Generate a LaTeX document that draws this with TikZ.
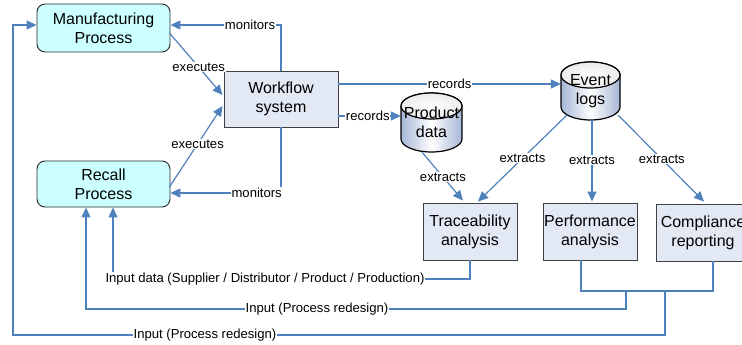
\documentclass[tikz,border=0pt]{standalone}
\usepackage{fontspec}
\setmainfont{Liberation Sans}
\usetikzlibrary{arrows.meta,calc}
\definecolor{lnblue}{RGB}{79,129,189}
\definecolor{cyanfill}{RGB}{204,255,255}
\definecolor{boxfill}{RGB}{226,233,245}
\definecolor{cylside}{RGB}{165,182,214}
\tikzset{
  nfont/.style={font=\fontsize{16}{19}\selectfont},
  lbl/.style={font=\fontsize{13.1}{15}\selectfont, fill=white, inner sep=0.8pt},
  procbox/.style={nfont, draw=black!85, line width=0.9pt, fill=cyanfill, rounded corners=8pt, align=center, minimum width=133pt, inner sep=0pt},
  anbox/.style={nfont, draw=black!75, line width=0.9pt, fill=boxfill, align=center, minimum width=94pt, minimum height=57pt, inner sep=0pt},
  wire/.style={draw=lnblue, line width=1.2pt},
  arr/.style={wire, -{Triangle[length=10pt,width=9pt]}},
  cyltext/.style={nfont, align=center, inner sep=0pt}
}
\newcommand\mycyl[5]{% cx, top, bottom, rx, ry
  \shade[left color=cylside, right color=cylside, middle color=white, draw=black, line width=1.2pt]
    (#1-#4,-#2-#5) -- (#1-#4,-#3+#5) arc[start angle=180,end angle=360,x radius=#4,y radius=#5]
    -- (#1+#4,-#2-#5) arc[start angle=0,end angle=180,x radius=#4,y radius=#5] -- cycle;
  \shade[inner color=white, outer color=black!8, draw=black, line width=1.2pt]
    (#1,-#2-#5) ellipse[x radius=#4,y radius=#5];
}
\begin{document}
\begin{tikzpicture}[x=1pt,y=1pt]
\useasboundingbox (0,0) rectangle (742,-345);
\clip (0,0) rectangle (742,-345);

% nodes
\node[procbox, minimum height=48pt] (mfg) at (103.5,-28) {Manufacturing\\Process};
\node[procbox, minimum height=46pt] (rec) at (103.5,-184) {Recall\\Process};
\node[anbox, minimum width=114pt, minimum height=56pt] (wf) at (281,-99) {Workflow\\system};
\node[anbox] (tr) at (470,-231.5) {Traceability\\analysis};
\node[anbox] (pf) at (590,-231.5) {Performance\\analysis};
\node[anbox] (cp) at (703,-232.5) {Compliance\\reporting};

\mycyl{431.5}{93}{152}{30.5}{13}
\node[cyltext, minimum width=61pt, minimum height=59pt] (pd) at (431.5,-122.5) {Product\\data};
\mycyl{590.5}{62}{120}{29.5}{13}
\node[cyltext, minimum width=59pt, minimum height=58pt] (ev) at (590.5,-91) {Event\\logs};

% upper connectors
\draw[arr] (wf.north) |- node[lbl, pos=0.64] {monitors} ($(mfg.east)+(0,3)$);
\draw[arr] (wf.south) |- node[lbl, pos=0.61] {monitors} ($(rec.east)+(0,-9)$);
\draw[arr] ($(mfg.east)+(-1,-5)$) -- node[lbl, pos=0.55] {executes} ($(wf.west)+(-1,4)$);
\draw[arr] ($(rec.east)+(-1,-3)$) -- node[lbl, pos=0.53] {executes} ($(wf.west)+(-1,-7)$);
\draw[arr] ($(wf.east)+(0,15)$) -- node[lbl, pos=0.5] {records} (ev.west |- {$(wf.east)+(0,15)$});
\draw[arr] ($(wf.east)+(0,-17)$) -- node[lbl, pos=0.47] {records} (pd.west |- {$(wf.east)+(0,-17)$});

\draw[arr] ($(pd.south)+(-9.5,0)$) -- node[lbl, pos=0.51] {extracts} ($(tr.north)+(-7,2)$);
\draw[arr] ($(ev.center)+(-23.5,-24)$) -- node[lbl, pos=0.5] {extracts} ($(tr.north)+(8,1)$);
\draw[arr] ($(ev.south)+(1.5,0)$) -- node[lbl, pos=0.49] {extracts} ($(pf.north)+(2,1)$);
\draw[arr] ($(ev.center)+(27.5,-24)$) -- node[lbl, pos=0.51] {extracts} ($(cp.north)+(1,2)$);

% bottom connectors
\coordinate (in1) at (113,-279);
\draw[arr] (tr.south) |- (in1) -- (in1 |- rec.south);
\node[lbl] (lin1) at (265,-279) {Input data (Supplier / Distributor / Product / Production)};

\coordinate (j1) at (581,-291);
\coordinate (j2) at (713,-291);
\draw[wire] (j1 |- pf.south) -- (j1) -- (j2) -- (j2 |- cp.south);

\coordinate (b1) at (626,-291);
\coordinate (b1d) at (626,-309);
\coordinate (in2) at (86,-309);
\draw[arr] (b1) -- (b1d) -- (in2) -- (in2 |- rec.south);
\node[lbl] (lin2) at (317,-309) {Input (Process redesign)};

\coordinate (b2) at (665,-291);
\coordinate (b2d) at (665,-335);
\coordinate (in3) at (13,-335);
\coordinate (in3t) at (13,-25);
\draw[arr] (b2) -- (b2d) -- (in3) -- (in3t) -- (in3t -| mfg.west);
\node[lbl] (lin3) at (205,-335) {Input (Process redesign)};
\end{tikzpicture}
\end{document}
